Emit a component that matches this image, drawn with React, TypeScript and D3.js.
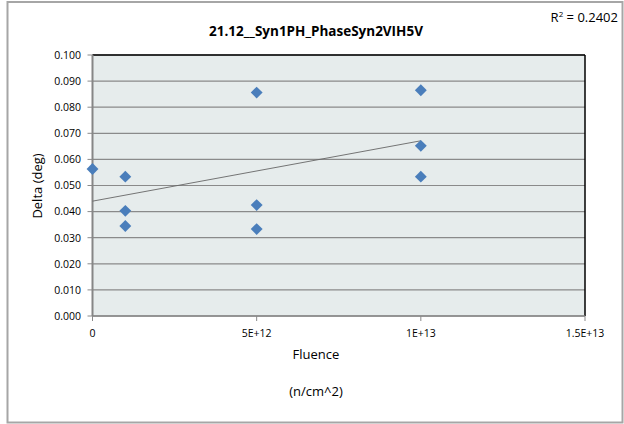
import * as d3 from "d3";

const fluence = [0, 1e12, 1e12, 1e12, 5e12, 5e12, 5e12, 1e13, 1e13, 1e13];
const delta = [0.0563, 0.0534, 0.0403, 0.0345, 0.0856, 0.0425, 0.0333, 0.0865, 0.0652, 0.0534];
const xTicks = [0, 5e12, 1e13, 1.5e13];
const xTickLabels = ["0", "5E+12", "1E+13", "1.5E+13"];
const yTicks = d3.range(0, 0.1001, 0.01);

const W = 624;
const H = 424;
const plot = { left: 92.5, right: 585, top: 55, bottom: 316 };
const font = "'Open Sans', 'Noto Sans', sans-serif";

export default function App() {
  const x = d3.scaleLinear().domain([0, 1.5e13]).range([plot.left, plot.right]);
  const y = d3.scaleLinear().domain([0, 0.1]).range([plot.bottom, plot.top]);

  // least squares trendline, like Excel's linear trend
  const mx = d3.mean(fluence)!;
  const my = d3.mean(delta)!;
  const sxy = d3.sum(fluence, (v, i) => (v - mx) * (delta[i] - my));
  const sxx = d3.sum(fluence, v => (v - mx) ** 2);
  const slope = sxy / sxx;
  const icpt = my - slope * mx;
  const xMax = d3.max(fluence)!;

  const diamond = d3.symbol().type(d3.symbolDiamond2).size(90)()!;

  return (
    <svg width={W} height={H} style={{ position: "absolute", left: 0, top: 0 }} fontFamily={font}>
      <rect x={0} y={0} width={W} height={H} fill="white" />
      <rect x={7.5} y={2} width={615} height={420.5} fill="white" stroke="#a6a6a6" strokeWidth={2} />

      <text x={316} y={36} textAnchor="middle" fontSize={13.5} fontWeight="bold" fill="#000">
        21.12__Syn1PH_PhaseSyn2VIH5V
      </text>
      <text x={618} y={22} textAnchor="end" fontSize={13} fill="#000">
        R<tspan dy={-5} fontSize={8}>2</tspan><tspan dy={5}> = 0.2402</tspan>
      </text>

      {/* plot area */}
      <rect x={plot.left} y={plot.top} width={plot.right - plot.left} height={plot.bottom - plot.top} fill="#e6ecec" />
      {yTicks.map((t, i) => (
        <g key={i}>
          <line x1={plot.left} x2={plot.right} y1={y(t)} y2={y(t)} stroke="#8a8a8a" strokeWidth={1.2} />
          <line x1={plot.left - 5} x2={plot.left} y1={y(t)} y2={y(t)} stroke="#8a8a8a" />
          <text x={81} y={y(t) + 3.8} textAnchor="end" fontSize={10.5} fill="#000">
            {t.toFixed(3)}
          </text>
        </g>
      ))}
      <line x1={plot.left} x2={plot.right} y1={plot.top} y2={plot.top} stroke="#000" strokeWidth={1.3} />
      <line x1={plot.right} x2={plot.right} y1={plot.top} y2={plot.bottom} stroke="#000" strokeWidth={1.5} />
      <line x1={plot.left} x2={plot.left} y1={plot.top} y2={plot.bottom} stroke="#868686" strokeWidth={2} />
      <line x1={plot.left} x2={plot.right} y1={plot.bottom} y2={plot.bottom} stroke="#868686" strokeWidth={1.5} />
      {xTicks.map((t, i) => (
        <g key={i}>
          <line x1={x(t)} x2={x(t)} y1={plot.bottom} y2={plot.bottom + 5} stroke="#8a8a8a" />
          <text x={x(t)} y={plot.bottom + 21} textAnchor="middle" fontSize={10.5} fill="#000">
            {xTickLabels[i]}
          </text>
        </g>
      ))}

      {/* trendline */}
      <line x1={x(0)} y1={y(icpt)} x2={x(xMax)} y2={y(icpt + slope * xMax)} stroke="#666" strokeWidth={0.9} />

      {fluence.map((f, i) => (
        <path key={i} d={diamond} transform={`translate(${x(f)},${y(delta[i])})`} fill="#4a7ebb" />
      ))}

      <text x={316} y={359} textAnchor="middle" fontSize={13} fill="#000">Fluence</text>
      <text x={316} y={396} textAnchor="middle" fontSize={13} fill="#000">(n/cm^2)</text>
      <text transform="translate(42,186) rotate(-90)" textAnchor="middle" fontSize={13} fill="#000">
        Delta (deg)
      </text>
    </svg>
  );
}
